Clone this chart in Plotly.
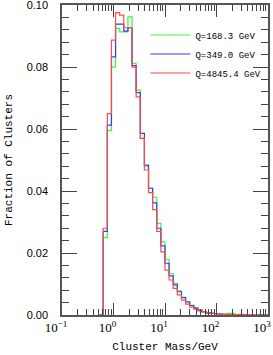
import numpy as np
import plotly.graph_objects as go

# 50 logarithmic bins from 0.1 to 1000 GeV
bin_edges = np.logspace(-1, 3, 51)
first_bin = 9  # histogram values listed from bin 9 onwards

series_names = ["Q=168.3 GeV", "Q=349.0 GeV", "Q=4845.4 GeV"]
series_colors = ["#33ff33", "#3a3aff", "#ff4a4a"]

frac_q168 = [0, 0.025, 0.0595, 0.0800, 0.0925, 0.0914, 0.0914, 0.0962, 0.0812, 0.0726,
             0.0570, 0.0480, 0.0409, 0.0380, 0.0296, 0.0236, 0.0180, 0.0134, 0.0102, 0.0078,
             0.0057, 0.0043, 0.0031, 0.0023, 0.0016, 0.0010, 0.0007, 0.0005, 0.0004, 0.0003,
             0.0002, 0.0005, 0.0005, 0.0001, 0, 0, 0, 0, 0, 0, 0]
frac_q349 = [0, 0.027, 0.0613, 0.0833, 0.0939, 0.0939, 0.0916, 0.0927, 0.0805, 0.0718,
             0.0586, 0.0484, 0.0409, 0.0362, 0.0280, 0.0223, 0.0167, 0.0126, 0.0097, 0.0075,
             0.0056, 0.0042, 0.0030, 0.0022, 0.0016, 0.0011, 0.0007, 0.0005, 0.0004, 0.0003,
             0.0002, 0.0001, 0.0001, 0.0001, 0.0002, 0.0001, 0, 0, 0, 0, 0]
frac_q4845 = [0, 0.028, 0.0650, 0.0887, 0.0976, 0.0968, 0.0927, 0.0927, 0.0800, 0.0704,
              0.0570, 0.0468, 0.0395, 0.0340, 0.0270, 0.0204, 0.0145, 0.0113, 0.0086, 0.0065,
              0.0048, 0.0035, 0.0025, 0.0019, 0.0013, 0.0010, 0.0007, 0.0005, 0.0004, 0.0003,
              0.0002, 0.0002, 0.0001, 0.0001, 0.0001, 0.0001, 0.0001, 0, 0, 0, 0]
all_series = [frac_q168, frac_q349, frac_q4845]

y_tickvals = [0.0, 0.02, 0.04, 0.06, 0.08, 0.10]
y_ticktext = ["0.00", "0.02", "0.04", "0.06", "0.08", "0.10"]
x_tickvals = [0.1, 1, 10, 100, 1000]
x_ticktext = ["10<sup>\u22121</sup>", "10<sup>0</sup>", "10<sup>1</sup>", "10<sup>2</sup>", "10<sup>3</sup>"]

fig = go.Figure()
for name, color, vals in zip(series_names, series_colors, all_series):
    edges = bin_edges[first_bin:first_bin + len(vals) + 1]
    xs = list(edges)
    ys = list(vals) + [vals[-1]]
    fig.add_trace(go.Scatter(x=xs, y=ys, mode="lines", name=name,
                             line=dict(color=color, width=1.2, shape="hv")))

x_minor = [m * 10.0 ** d for d in range(-1, 3) for m in range(2, 10)]

fig.update_layout(
    width=273, height=355,
    margin=dict(l=62, r=5, t=5, b=40, autoexpand=False),
    paper_bgcolor="white", plot_bgcolor="white",
    showlegend=True,
    legend=dict(x=0.405, y=0.95, xanchor="left", yanchor="top",
                bgcolor="rgba(0,0,0,0)", font=dict(family="Liberation Mono", size=9, color="black"),
                itemwidth=40, tracegroupgap=0),
)
fig.update_xaxes(
    type="log", range=[-1.0002, 3.0002], automargin=False,
    tickvals=x_tickvals, ticktext=x_ticktext, ticklabelshift=-6, ticklabeloverflow="allow",
    ticks="inside", ticklen=12, tickwidth=1, tickcolor="#444",
    showline=True, linecolor="#555", linewidth=1.5, mirror="allticks",
    showgrid=False, zeroline=False,
    tickfont=dict(family="Liberation Serif", size=13, color="black"),
    minor=dict(tickvals=x_minor, ticks="inside", ticklen=6, tickcolor="#444", showgrid=False),
    title=dict(text="Cluster Mass/GeV", font=dict(family="Liberation Mono", size=11, color="black"), standoff=8),
)
fig.update_yaxes(
    range=[0, 0.10005], automargin=False,
    tickvals=y_tickvals, ticktext=y_ticktext, ticklabeloverflow="allow",
    ticks="inside", ticklen=15, tickwidth=1, tickcolor="#444",
    showline=True, linecolor="#555", linewidth=1.5, mirror="allticks",
    showgrid=False, zeroline=False, ticklabelstandoff=10,
    tickfont=dict(family="Liberation Sans", size=11, color="black"),
    minor=dict(dtick=0.004, ticks="inside", ticklen=7, tickcolor="#444", showgrid=False),
    title=dict(text="Fraction of Clusters", font=dict(family="Liberation Mono", size=11, color="black"), standoff=12),
)

fig.write_html("out.html", config={"displayModeBar": False},
               post_script="document.body.style.margin='0px';")
